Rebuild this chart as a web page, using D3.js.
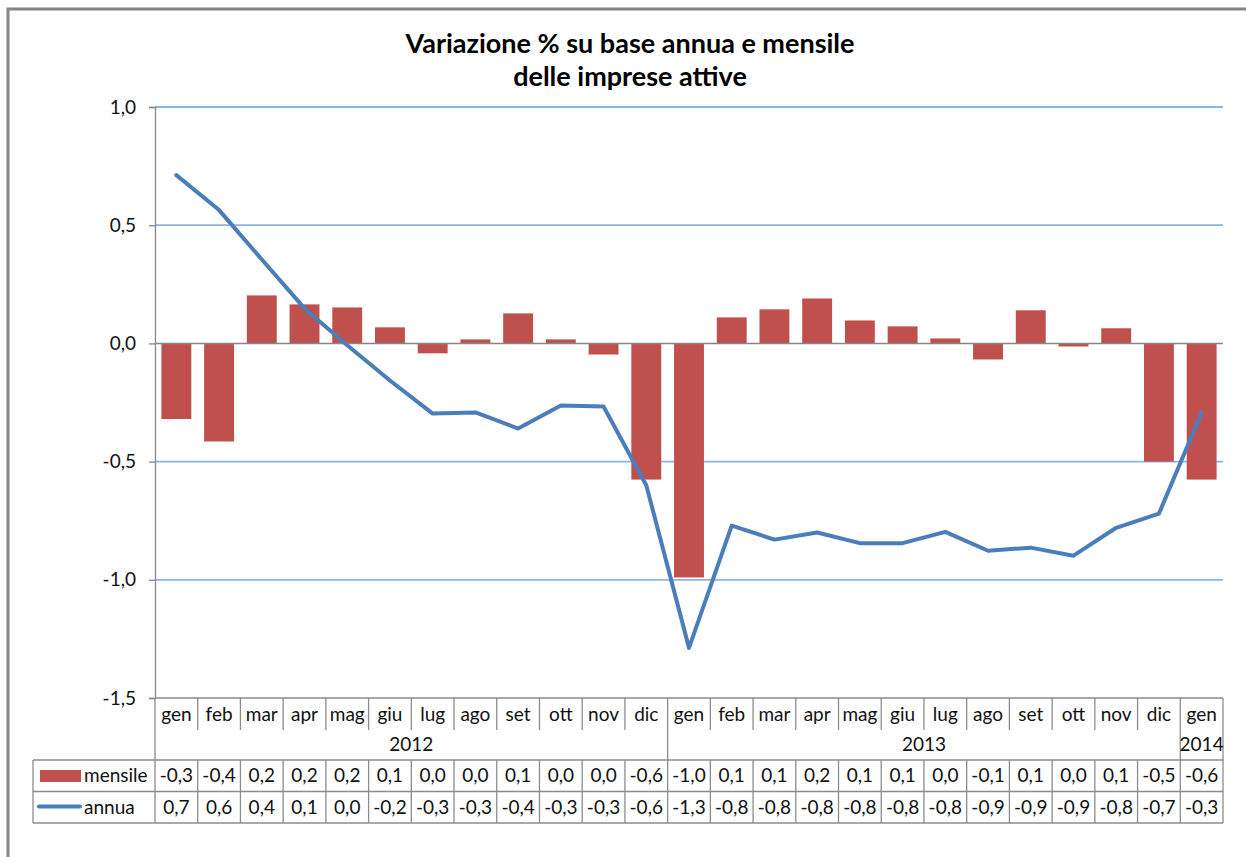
<!DOCTYPE html>
<html>
<head>
<meta charset="utf-8">
<script src="https://cdn.jsdelivr.net/npm/d3@7"></script>
<style>
  body { margin: 0; background: #fff; }
  svg { display: block; font-family: Lato, "Open Sans", sans-serif; }
</style>
</head>
<body>
<div id="chart"></div>
<script>
const width = 1246;
const height = 857;
const margin = { top: 107, right: 23, bottom: 159, left: 155 };

const months = ["gen", "feb", "mar", "apr", "mag", "giu", "lug", "ago", "set", "ott", "nov", "dic",
  "gen", "feb", "mar", "apr", "mag", "giu", "lug", "ago", "set", "ott", "nov", "dic", "gen"];
const years = [
  { label: "2012", from: 0, to: 11 },
  { label: "2013", from: 12, to: 23 },
  { label: "2014", from: 24, to: 24 },
];
const mensile = [-0.32, -0.415, 0.203, 0.165, 0.152, 0.068, -0.042, 0.017, 0.127, 0.017, -0.047, -0.576,
  -0.99, 0.11, 0.144, 0.19, 0.097, 0.072, 0.021, -0.068, 0.14, -0.013, 0.064, -0.5, -0.576];
const annua = [0.712, 0.564, 0.355, 0.148, -0.008, -0.157, -0.297, -0.292, -0.36, -0.263, -0.267, -0.6,
  -1.288, -0.771, -0.83, -0.8, -0.845, -0.845, -0.797, -0.877, -0.864, -0.898, -0.78, -0.72, -0.292];
const yTicks = [1.0, 0.5, 0.0, -0.5, -1.0, -1.5];

const barColor = "#C0504D";
const lineColor = "#4A7EBB";
const gridColor = "#8EB4E3";
const axisColor = "#868686";

const it = d3.formatLocale({ decimal: ",", thousands: ".", grouping: [3], currency: ["", "€"], minus: "-" });
const fmt = it.format(".1f");

const svg = d3.select("#chart")
  .append("svg")
  .attr("width", width)
  .attr("height", height);

// frame (only top/left visible in crop)
svg.append("path")
  .attr("d", `M8,${height} V9 H${width}`)
  .attr("fill", "none")
  .attr("stroke", axisColor)
  .attr("stroke-width", 3);

// title
const title = svg.append("text")
  .attr("x", 630)
  .attr("text-anchor", "middle")
  .attr("font-size", 27)
  .attr("font-weight", "bold")
  .attr("fill", "#000");
title.append("tspan").attr("x", 630).attr("y", 53).text("Variazione % su base annua e mensile");
title.append("tspan").attr("x", 630).attr("y", 86).text("delle imprese attive");

const x = d3.scaleBand()
  .domain(d3.range(months.length))
  .range([margin.left, width - margin.right])
  .padding(0);

const y = d3.scaleLinear()
  .domain([-1.5, 1.0])
  .range([height - margin.bottom, margin.top]);

// gridlines
svg.append("g")
  .selectAll("line")
  .data(yTicks.filter((d) => d !== 0 && d !== -1.5))
  .join("line")
  .attr("x1", margin.left)
  .attr("x2", width - margin.right)
  .attr("y1", (d) => y(d))
  .attr("y2", (d) => y(d))
  .attr("stroke", gridColor)
  .attr("stroke-width", 1.8);

// y axis
const yAxis = svg.append("g")
  .attr("transform", `translate(${margin.left},0)`)
  .call(d3.axisLeft(y).tickValues(yTicks).tickSize(6).tickPadding(13).tickFormat(fmt));
yAxis.select(".domain").attr("stroke", axisColor).attr("stroke-width", 1.3);
yAxis.selectAll(".tick line").attr("stroke", axisColor).attr("stroke-width", 1.3);
yAxis.selectAll(".tick text")
  .attr("font-size", 19)
  .attr("font-family", "Lato, sans-serif")
  .attr("fill", "#111");

// bars
const barW = x.bandwidth() * 0.7;
svg.append("g")
  .selectAll("rect")
  .data(mensile)
  .join("rect")
  .attr("x", (d, i) => x(i) + (x.bandwidth() - barW) / 2)
  .attr("width", barW)
  .attr("y", (d) => y(Math.max(0, d)))
  .attr("height", (d) => Math.abs(y(d) - y(0)))
  .attr("fill", barColor);

// zero line
svg.append("line")
  .attr("x1", margin.left)
  .attr("x2", width - margin.right)
  .attr("y1", y(0))
  .attr("y2", y(0))
  .attr("stroke", axisColor)
  .attr("stroke-width", 1.5);

// line
const line = d3.line()
  .x((d, i) => x(i) + x.bandwidth() / 2)
  .y((d) => y(d));

svg.append("path")
  .datum(annua)
  .attr("d", line)
  .attr("fill", "none")
  .attr("stroke", lineColor)
  .attr("stroke-width", 4)
  .attr("stroke-linejoin", "round")
  .attr("stroke-linecap", "round");

// data table
const tableColor = "#8C8C8C";
const yTop = y(-1.5);
const rowMonth = 32;
const rowYear = 30;
const rowH = 31.5;
const yYear = yTop + rowMonth;
const yMens = yYear + rowYear;
const yAnn = yMens + rowH;
const yEnd = yAnn + rowH;
const legendLeft = 33;
const table = svg.append("g").attr("stroke", tableColor).attr("stroke-width", 1.3);

// horizontal lines
table.append("line").attr("x1", margin.left).attr("x2", width - margin.right).attr("y1", yTop).attr("y2", yTop);
[yMens, yAnn, yEnd].forEach((yy) => {
  table.append("line").attr("x1", legendLeft).attr("x2", width - margin.right).attr("y1", yy).attr("y2", yy);
});
table.append("line").attr("x1", legendLeft).attr("x2", legendLeft).attr("y1", yMens).attr("y2", yEnd);

// vertical separators
const bounds = d3.range(months.length + 1);
bounds.forEach((b) => {
  const xx = b < months.length ? x(b) : x.range()[1];
  const isYear = b === 0 || b === months.length || years.some((yr) => yr.from === b);
  table.append("line")
    .attr("x1", xx).attr("x2", xx)
    .attr("y1", yTop)
    .attr("y2", isYear ? yMens : yYear);
  table.append("line")
    .attr("x1", xx).attr("x2", xx)
    .attr("y1", yMens)
    .attr("y2", yEnd);
});

const fs = 19;
const txt = svg.append("g")
  .attr("font-size", fs)
  .attr("fill", "#111")
  .attr("text-anchor", "middle");

txt.selectAll(".month")
  .data(months)
  .join("text")
  .attr("class", "month")
  .attr("x", (d, i) => x(i) + x.bandwidth() / 2)
  .attr("y", yTop + 23)
  .text((d) => d);

txt.selectAll(".year")
  .data(years)
  .join("text")
  .attr("class", "year")
  .attr("x", (d) => (x(d.from) + x(d.to) + x.bandwidth()) / 2)
  .attr("y", yYear + 21)
  .text((d) => d.label);

txt.selectAll(".mens")
  .data(mensile)
  .join("text")
  .attr("class", "mens")
  .attr("x", (d, i) => x(i) + x.bandwidth() / 2)
  .attr("y", yMens + 22)
  .text((d) => fmt(d));

txt.selectAll(".ann")
  .data(annua)
  .join("text")
  .attr("class", "ann")
  .attr("x", (d, i) => x(i) + x.bandwidth() / 2)
  .attr("y", yAnn + 22)
  .text((d) => fmt(d));

// legend keys
svg.append("rect")
  .attr("x", 40).attr("y", yMens + 10)
  .attr("width", 41).attr("height", 12)
  .attr("fill", barColor);
svg.append("text")
  .attr("x", 84).attr("y", yMens + 22)
  .attr("font-size", fs).attr("fill", "#111")
  .text("mensile");
svg.append("line")
  .attr("x1", 39).attr("x2", 80)
  .attr("y1", yAnn + 15).attr("y2", yAnn + 15)
  .attr("stroke", lineColor).attr("stroke-width", 4)
  .attr("stroke-linecap", "round");
svg.append("text")
  .attr("x", 84).attr("y", yAnn + 22)
  .attr("font-size", fs).attr("fill", "#111")
  .text("annua");
</script>
</body>
</html>
